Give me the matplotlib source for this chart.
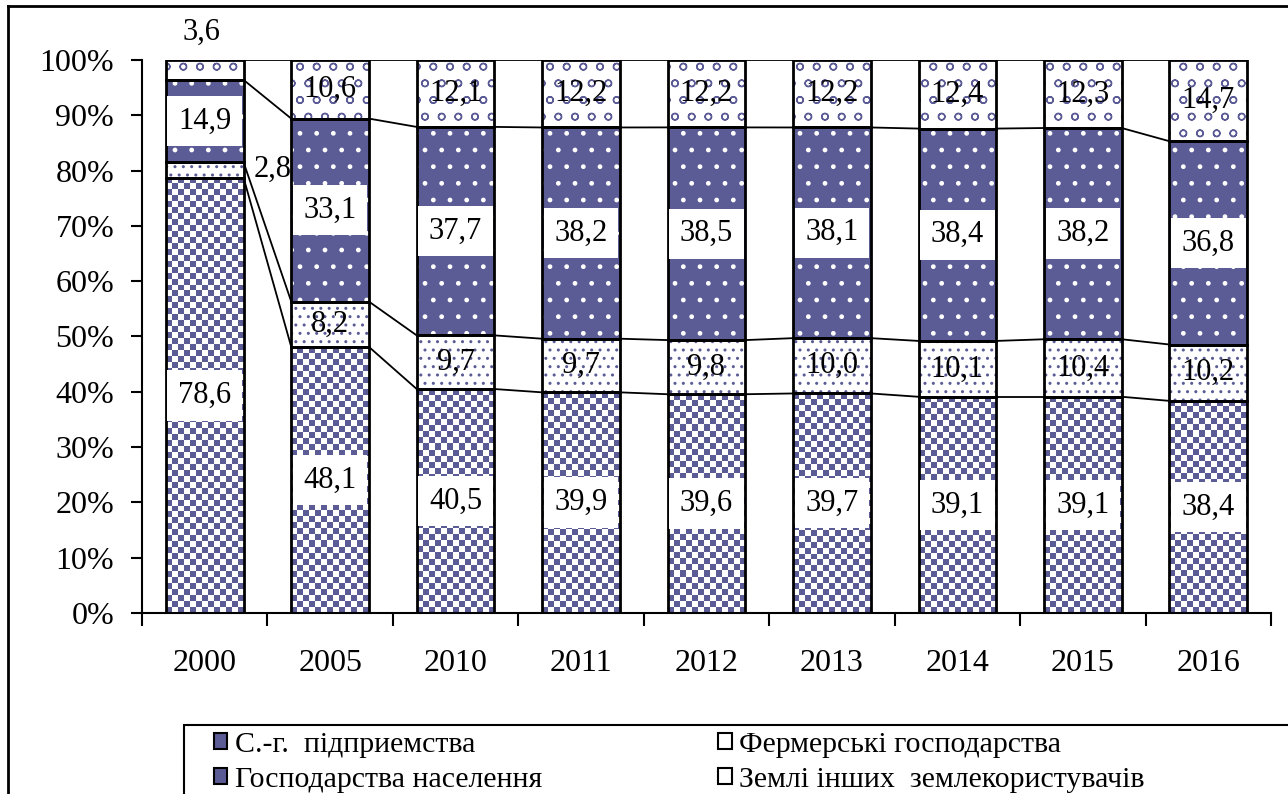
import numpy as np
import matplotlib.pyplot as plt
from matplotlib.colors import ListedColormap
from matplotlib.lines import Line2D
from matplotlib.patches import Patch, Rectangle

plt.rcParams["font.family"] = ["Liberation Serif", "DejaVu Serif"]
plt.rcParams["hatch.linewidth"] = 1.0

years = ["2000", "2005", "2010", "2011", "2012", "2013", "2014", "2015", "2016"]
agro = [78.6, 48.1, 40.5, 39.9, 39.6, 39.7, 39.1, 39.1, 38.4]
farms = [2.8, 8.2, 9.7, 9.7, 9.8, 10.0, 10.1, 10.4, 10.2]
households = [14.9, 33.1, 37.7, 38.2, 38.5, 38.1, 38.4, 38.2, 36.8]
others = [3.6, 10.6, 12.1, 12.2, 12.2, 12.2, 12.4, 12.3, 14.7]
series_names = ["С.-г.  підприемства", "Фермерські господарства",
                "Господарства населення", "Землі інших  землекористувачів"]

BLUE = "#5b5b95"
W = 0.62

raw = np.array([agro, farms, households, others])
pct = raw / raw.sum(axis=0) * 100
bottoms = np.vstack([np.zeros(len(years)), np.cumsum(pct, axis=0)[:-1]])
x = np.arange(len(years))

fig = plt.figure(figsize=(12.88, 7.94), dpi=100)
ax = fig.add_axes([142 / 1288, 1 - 613 / 794, 1129 / 1288, 553 / 794])
ax.set_xlim(-0.5, len(years) - 0.5)
ax.set_ylim(0, 100)

# С.-г. підприємства: checkerboard drawn as image inside each bar
agro_bars = ax.bar(x, pct[0], W, bottom=bottoms[0], color="white", lw=0, zorder=1)
checker = ListedColormap([BLUE, "white"])
px0 = ax.transData.transform((0, 0))
for b in agro_bars:
    wpx, hpx = ax.transData.transform((b.get_width(), b.get_height())) - px0
    ncols = max(1, int(round(wpx / 6.0)))
    nrows = max(1, int(round(hpx / 6.0)))
    grid = np.indices((nrows, ncols)).sum(axis=0) % 2
    im = ax.imshow(grid, cmap=checker, interpolation="nearest", aspect="auto", origin="lower",
                   extent=(b.get_x(), b.get_x() + b.get_width(), b.get_y(), b.get_y() + b.get_height()),
                   zorder=1.5)
    im.set_clip_path(b)

# Фермерські: white with blue dots
ax.bar(x, pct[1], W, bottom=bottoms[1], facecolor="white", edgecolor=BLUE, hatch="..", lw=0, zorder=1)
# Господарства населення: blue with white dots
ax.bar(x, pct[2], W, bottom=bottoms[2], facecolor=BLUE, edgecolor="white", hatch=".", lw=0, zorder=1)
# Інші: white with small blue marks
ax.bar(x, pct[3], W, bottom=bottoms[3], facecolor="white", edgecolor=BLUE, hatch="o", lw=0, zorder=1)

# outlines
for i in range(4):
    ax.bar(x, pct[i], W, bottom=bottoms[i], fill=False, edgecolor="black", lw=2, zorder=3)

# series lines
tops = np.cumsum(pct, axis=0)
for k in range(4):
    for i in range(len(years) - 1):
        ax.plot([x[i] + W / 2, x[i + 1] - W / 2], [tops[k, i], tops[k, i + 1]],
                color="black", lw=1.3, zorder=2.5)

# value labels
box = dict(boxstyle="square,pad=0.35", facecolor="white", edgecolor="none")
for i in range(len(years)):
    for k in range(4):
        txt = f"{raw[k, i]:.1f}".replace(".", ",")
        cy = bottoms[k, i] + pct[k, i] / 2
        if i == 0 and k == 1:
            ax.text(x[i] + 0.54, tops[k, i] - 1.2, txt, ha="center", va="center", fontsize=22, zorder=4)
        elif i == 0 and k == 3:
            ax.text(x[i] - 0.03, 105.0, txt, ha="center", va="center", fontsize=22, zorder=4, clip_on=False)
        elif k in (0, 2):
            ax.text(x[i], cy, txt, ha="center", va="center", fontsize=22, zorder=4, bbox=box)
        else:
            ax.text(x[i], cy, txt, ha="center", va="center", fontsize=22, zorder=4)

# axes styling
for s in ("top", "right"):
    ax.spines[s].set_visible(False)
for s in ("left", "bottom"):
    ax.spines[s].set_linewidth(1.5)
ax.set_yticks(np.arange(0, 101, 10))
ax.set_yticklabels([f"{v}%" for v in range(0, 101, 10)])
ax.tick_params(axis="y", labelsize=23, length=8, width=1.5, pad=12)
ax.set_xticks(x)
ax.set_xticklabels(years)
ax.set_xticks(np.arange(-0.5, len(years), 1), minor=True)
ax.tick_params(axis="x", which="major", labelsize=23, length=0, pad=26)
ax.tick_params(axis="x", which="minor", length=9, width=1.5)

# legend (frame drawn separately, it runs past the right edge in the original)
handles = [Patch(facecolor=BLUE, edgecolor="black", lw=1.5),
           Patch(facecolor="white", edgecolor="black", lw=1.5),
           Patch(facecolor=BLUE, edgecolor="black", lw=1.5),
           Patch(facecolor="white", edgecolor="black", lw=1.5)]
order = [0, 2, 1, 3]
fig.legend([handles[j] for j in order], [series_names[j] for j in order],
           loc="upper left", bbox_to_anchor=(214 / 1288, 1 - 732 / 794),
           ncol=2, fontsize=21.5, frameon=False,
           handlelength=0.45, handleheight=0.45, handletextpad=0.25,
           columnspacing=5.9, borderpad=0, labelspacing=0.3, borderaxespad=0)
fig.add_artist(Rectangle((184 / 1288, -0.05), 1.2, (794 - 725) / 794 + 0.05,
                         transform=fig.transFigure, fill=False, edgecolor="black", lw=1.5))

# outer frame of the original screenshot
fig.add_artist(Line2D([8 / 1288, 8 / 1288], [0, 1 - 6 / 794], transform=fig.transFigure,
                      color="black", lw=2))
fig.add_artist(Line2D([8 / 1288, 1], [1 - 6 / 794, 1 - 6 / 794], transform=fig.transFigure,
                      color="black", lw=2))

fig.savefig("out.png", dpi=100)
